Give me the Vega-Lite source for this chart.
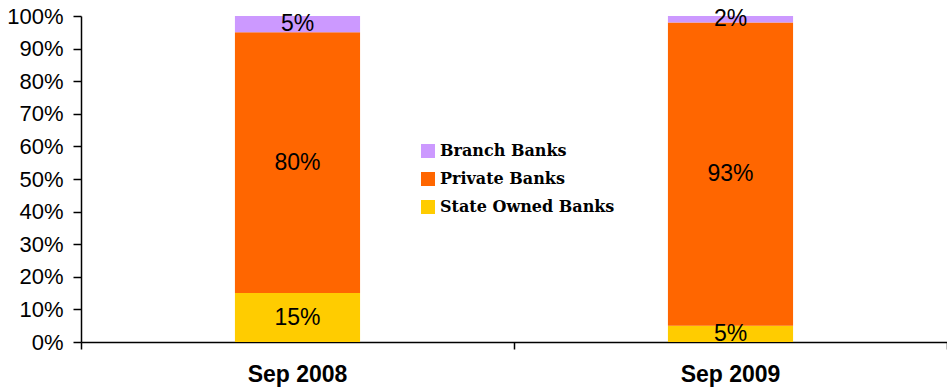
{
  "$schema": "https://vega.github.io/schema/vega-lite/v6.json",
  "width": 866,
  "height": 326,
  "autosize": {"type": "none"},
  "padding": {"left": 81, "top": 16, "right": 0, "bottom": 49},
  "background": "white",
  "config": {"view": {"stroke": null}},
  "data": {
    "values": [
      {"period": "Sep 2008", "type": "State Owned Banks", "value": 15, "ord": 1},
      {"period": "Sep 2008", "type": "Private Banks", "value": 80, "ord": 2},
      {"period": "Sep 2008", "type": "Branch Banks", "value": 5, "ord": 3},
      {"period": "Sep 2009", "type": "State Owned Banks", "value": 5, "ord": 1},
      {"period": "Sep 2009", "type": "Private Banks", "value": 93, "ord": 2},
      {"period": "Sep 2009", "type": "Branch Banks", "value": 2, "ord": 3}
    ]
  },
  "transform": [
    {"stack": "value", "groupby": ["period"], "sort": [{"field": "ord", "order": "ascending"}], "as": ["v0", "v1"]},
    {"calculate": "(datum.v0 + datum.v1) / 2", "as": "mid"},
    {"calculate": "datum.value + '%'", "as": "label"}
  ],
  "encoding": {
    "x": {
      "field": "period",
      "type": "nominal",
      "sort": ["Sep 2008", "Sep 2009"],
      "scale": {"paddingInner": 0, "paddingOuter": 0},
      "axis": {
        "title": null,
        "labelAngle": 0,
        "labelFont": "Liberation Sans",
        "labelFontSize": 23,
        "labelFontWeight": "bold",
        "labelColor": "black",
        "labelPadding": 14,
        "domainColor": "black",
        "domainWidth": 1.5,
        "tickColor": "black",
        "tickWidth": 1.5,
        "tickSize": 7,
        "bandPosition": 1,
        "tickExtra": true
      }
    }
  },
  "resolve": {"axis": {"y": "independent"}},
  "layer": [
    {
      "mark": {"type": "bar", "width": {"band": 0.289}},
      "encoding": {
        "y": {
          "field": "v0",
          "type": "quantitative",
          "scale": {"domain": [0, 100], "nice": false},
          "axis": {
            "title": null,
            "values": [0, 10, 20, 30, 40, 50, 60, 70, 80, 90, 100],
            "labelExpr": "datum.value + '%'",
            "labelOverlap": false,
            "labelFont": "Liberation Sans",
            "labelFontSize": 22,
            "labelColor": "black",
            "labelPadding": 10,
            "grid": false,
            "domainColor": "black",
            "domainWidth": 1.5,
            "tickColor": "black",
            "tickWidth": 1.5,
            "tickSize": 8
          }
        },
        "y2": {"field": "v1"},
        "color": {
          "field": "type",
          "type": "nominal",
          "scale": {
            "domain": ["Branch Banks", "Private Banks", "State Owned Banks"],
            "range": ["#CC99FF", "#FF6600", "#FFCC00"]
          },
          "legend": {
            "title": null,
            "orient": "none",
            "legendX": 339,
            "legendY": 127,
            "symbolType": "square",
            "symbolSize": 196,
            "symbolStrokeWidth": 0,
            "labelFont": "DejaVu Serif",
            "labelFontSize": 16,
            "labelFontWeight": "bold",
            "labelColor": "black",
            "labelLimit": 300,
            "rowPadding": 12,
            "labelOffset": 4
          }
        }
      }
    },
    {
      "mark": {"type": "text", "font": "Liberation Sans", "fontSize": 23, "color": "black", "baseline": "middle"},
      "encoding": {
        "y": {"field": "mid", "type": "quantitative", "axis": null},
        "text": {"field": "label", "type": "nominal"}
      }
    }
  ]
}
